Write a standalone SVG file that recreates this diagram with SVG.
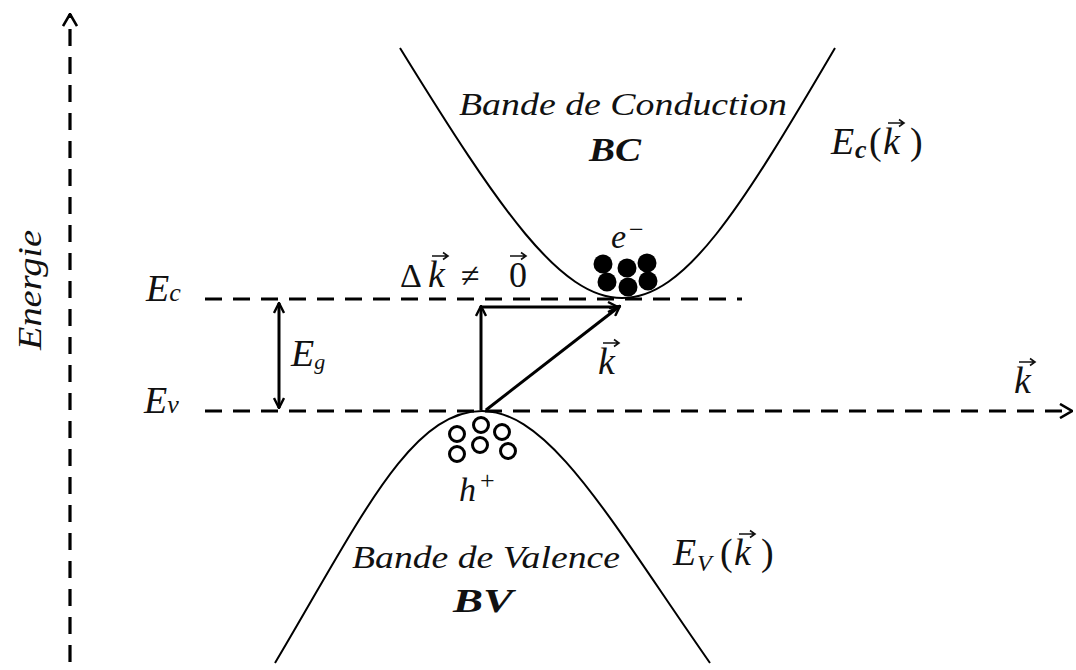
<svg xmlns="http://www.w3.org/2000/svg" width="1076" height="670" viewBox="0 0 1076 670">
<style>
.dash{stroke:#000;stroke-width:3.2;fill:none;stroke-dasharray:17 11}
.ln{stroke:#000;stroke-width:2;fill:none}
.arr{stroke:#000;stroke-width:3;fill:none}
.t{font-family:"Liberation Serif","Times New Roman",serif;font-style:italic;fill:#111}
.r{font-family:"Liberation Serif","Times New Roman",serif;fill:#111}
.b{font-weight:bold}
.hole{fill:none;stroke:#000;stroke-width:3}
.el{fill:#000}
.vec{stroke:#111;stroke-width:1.6;fill:none}
</style>
<defs>
<marker id="head" viewBox="0 0 12 12" refX="11" refY="6" markerWidth="12" markerHeight="12" markerUnits="userSpaceOnUse" orient="auto-start-reverse">
<path d="M1,1 L11,6 L1,11" fill="none" stroke="#000" stroke-width="2.4"/>
</marker>
<marker id="headAx" viewBox="0 0 14 16" refX="13" refY="8" markerWidth="14" markerHeight="16" markerUnits="userSpaceOnUse" orient="auto">
<path d="M1,1 L13,8 L1,15" fill="none" stroke="#000" stroke-width="2.6"/>
</marker>
<g id="vecArrow"><path class="vec" d="M0,0 H16 M11,-3.5 L16,0 L11,3.5"/></g>
</defs>

<g id="connectors">
<line id="energy-axis" class="dash" x1="70" y1="662" x2="70" y2="14" marker-end="url(#headAx)"/>
<line id="k-axis" class="dash" x1="205" y1="411" x2="1072" y2="411" marker-end="url(#headAx)"/>
<line id="ec-line" class="dash" x1="205" y1="299" x2="742" y2="299"/>
<line id="eg-arrow" class="arr" x1="279" y1="303" x2="279" y2="408" marker-start="url(#head)" marker-end="url(#head)"/>
<line id="vertical-arrow" class="arr" x1="481" y1="410" x2="481" y2="306" marker-end="url(#head)"/>
<line id="horizontal-arrow" class="arr" x1="481" y1="307" x2="618" y2="307" marker-end="url(#head)"/>
<line id="diagonal-arrow" class="arr" x1="486" y1="410" x2="620" y2="306" marker-end="url(#head)"/>
</g>

<g id="conduction-band">
<path class="ln" d="M400,48 C500,210 560,298 622,298 C685,298 740,210 835,48"/>
<text class="t" x="623" y="115" font-size="31" text-anchor="middle" textLength="328" lengthAdjust="spacingAndGlyphs">Bande de Conduction</text>
<text class="t b" x="615" y="161" font-size="34" text-anchor="middle" textLength="52" lengthAdjust="spacingAndGlyphs">BC</text>
</g>

<g id="valence-band">
<path class="ln" d="M275,663 C360,520 410,411 482,411 C550,411 610,520 710,663"/>
<text class="t" x="486" y="568" font-size="31" text-anchor="middle" textLength="268" lengthAdjust="spacingAndGlyphs">Bande de Valence</text>
<text class="t b" x="483" y="612" font-size="34" text-anchor="middle" textLength="60" lengthAdjust="spacingAndGlyphs">BV</text>
</g>

<g id="electrons">
<circle class="el" cx="603" cy="264" r="9.5"/>
<circle class="el" cx="627" cy="268" r="9.5"/>
<circle class="el" cx="647" cy="263" r="9.5"/>
<circle class="el" cx="607" cy="282" r="9.5"/>
<circle class="el" cx="628" cy="287" r="9.5"/>
<circle class="el" cx="648" cy="281" r="9.5"/>
<text class="t" x="611" y="248" font-size="34">e</text>
<text class="r" x="629" y="238" font-size="26">−</text>
</g>

<g id="holes">
<circle class="hole" cx="481" cy="425" r="7.5"/>
<circle class="hole" cx="502" cy="432" r="7.5"/>
<circle class="hole" cx="457" cy="434" r="7.5"/>
<circle class="hole" cx="480" cy="445" r="7.5"/>
<circle class="hole" cx="457" cy="454" r="7.5"/>
<circle class="hole" cx="508" cy="451" r="7.5"/>
<text class="t" x="459" y="501" font-size="34">h</text>
<text class="r" x="480" y="489" font-size="26">+</text>
</g>

<g id="labels">
<text class="t" x="30" y="290" font-size="34" text-anchor="middle" transform="rotate(-90 30 290)" dy="11" textLength="120" lengthAdjust="spacingAndGlyphs">Energie</text>
<text class="t" x="146" y="301" font-size="38">E<tspan font-size="26">c</tspan></text>
<text class="t" x="144" y="413" font-size="38">E<tspan font-size="26">v</tspan></text>
<text class="t" x="291" y="366" font-size="38">E<tspan font-size="22" dy="3">g</tspan></text>

<g id="delta-k-label">
<text class="r" x="400" y="287" font-size="34">Δ</text>
<text class="t" x="428" y="287" font-size="38">k</text>
<use href="#vecArrow" x="432" y="256"/>
<text class="r" x="461" y="287" font-size="34">≠</text>
<text class="r" x="509" y="287" font-size="36">0</text>
<use href="#vecArrow" x="510" y="256"/>
</g>

<g id="k-diag-label">
<text class="t" x="598" y="374" font-size="38">k</text>
<use href="#vecArrow" x="603" y="343"/>
</g>

<g id="k-axis-label">
<text class="t" x="1014" y="393" font-size="38">k</text>
<use href="#vecArrow" x="1019" y="362"/>
</g>

<g id="ec-k-label">
<text class="t" x="831" y="154" font-size="38">E<tspan x="855" dy="4" font-size="26" font-weight="bold">c</tspan><tspan x="869" dy="-4" font-style="normal">(</tspan><tspan x="883">k</tspan><tspan x="910" font-style="normal">)</tspan></text>
<use href="#vecArrow" x="888" y="123"/>
</g>

<g id="ev-k-label">
<text class="t" x="673" y="565" font-size="38">E<tspan x="697" dy="6" font-size="24">V</tspan><tspan x="720" dy="-6" font-style="normal">(</tspan><tspan x="734">k</tspan><tspan x="761" font-style="normal">)</tspan></text>
<use href="#vecArrow" x="739" y="534"/>
</g>
</g>
</svg>
